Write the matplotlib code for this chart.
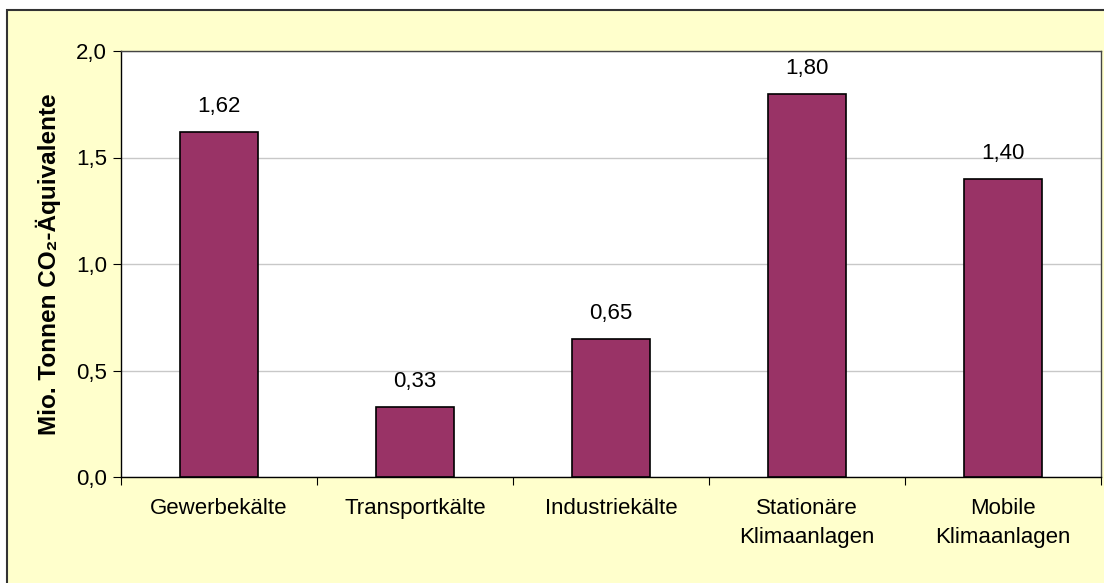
import matplotlib.pyplot as plt
from matplotlib.patches import Rectangle

plt.rcParams['font.family'] = ['Liberation Sans', 'DejaVu Sans']

categories = ['Gewerbekälte', 'Transportkälte', 'Industriekälte',
              'Stationäre\nKlimaanlagen', 'Mobile\nKlimaanlagen']
values = [1.62, 0.33, 0.65, 1.80, 1.40]
value_labels = ['1,62', '0,33', '0,65', '1,80', '1,40']
yticks = [0.0, 0.5, 1.0, 1.5, 2.0]
ytick_labels = ['0,0', '0,5', '1,0', '1,5', '2,0']

fig = plt.figure(figsize=(11.04, 5.83), dpi=100)
fig.patch.set_facecolor('white')

# yellow chart area with dark border (right/bottom edges run off the image)
W, H = 1104, 583
fig.patches.append(Rectangle((7 / W, -0.05), (W + 20) / W, (H - 10) / H + 0.05,
                             transform=fig.transFigure, facecolor='#FFFFCC',
                             edgecolor='#333333', linewidth=1.5, zorder=-10))

ax = fig.add_axes([121 / W, 1 - 477 / H, (1101 - 121) / W, (477 - 51) / H])
ax.set_zorder(1)
ax.set_facecolor('white')

x = list(range(len(categories)))
ax.bar(x, values, width=0.4, color='#993366', edgecolor='black', linewidth=1.2, zorder=3)

for xi, v, lab in zip(x, values, value_labels):
    ax.text(xi, v + 0.07, lab, ha='center', va='bottom', fontsize=16)

ax.set_xlim(-0.5, len(categories) - 0.5)
ax.set_ylim(0, 2.0)
ax.set_yticks(yticks)
ax.set_yticklabels(ytick_labels, fontsize=16)
ax.yaxis.grid(True, color='#C8C8C8', linewidth=1, zorder=0)

ax.set_xticks([i + 0.5 for i in range(-1, len(categories))], minor=False)
ax.set_xticklabels([])
ax.set_xticks(x, minor=True)
ax.set_xticklabels(categories, minor=True, fontsize=16, linespacing=1.5)
ax.tick_params(axis='x', which='minor', length=0, pad=15)
ax.tick_params(axis='x', which='major', length=6, direction='out')
ax.tick_params(axis='y', length=6, direction='out', pad=4)

ax.set_ylabel('Mio. Tonnen CO₂-Äquivalente', fontsize=17.5, fontweight='bold', labelpad=11)

for side in ['left', 'bottom']:
    ax.spines[side].set_color('black')
    ax.spines[side].set_linewidth(1)
for side in ['top', 'right']:
    ax.spines[side].set_color('#444444')
    ax.spines[side].set_linewidth(1)

fig.savefig('out.png', dpi=100, facecolor=fig.get_facecolor())
